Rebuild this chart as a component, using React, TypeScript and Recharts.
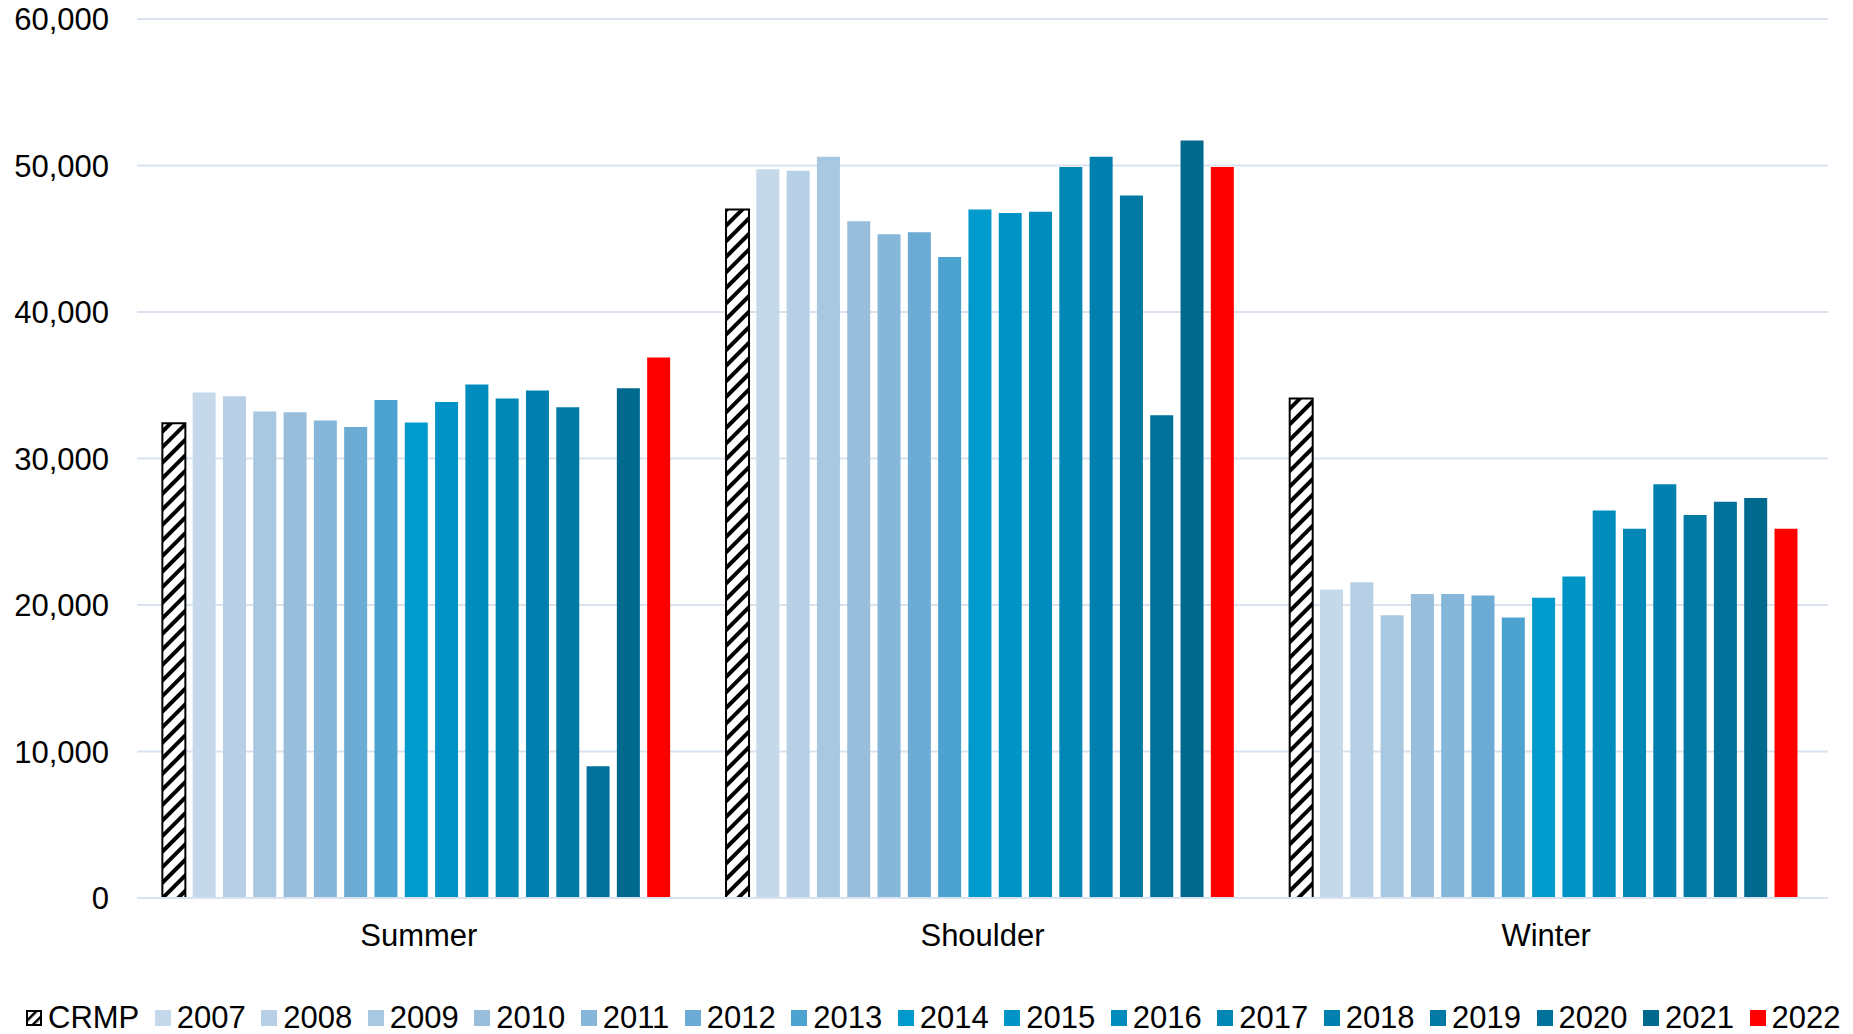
import React from 'react';
import { BarChart, Bar, XAxis, YAxis, CartesianGrid, Legend } from 'recharts';

const CATEGORIES = ['Summer', 'Shoulder', 'Winter'];
const SERIES = ['CRMP', '2007', '2008', '2009', '2010', '2011', '2012', '2013', '2014', '2015', '2016', '2017', '2018', '2019', '2020', '2021', '2022'];
const COLORS = [
    'url(#crmpHatch)', '#C5D9EA', '#B7D0E5', '#A8C8E1', '#98BEDC', '#86B6D9', '#6CABD4', '#4CA3CF',
    '#019ACD', '#0093C5', '#008CBD', '#0087B6', '#0080AE', '#0079A5', '#00719A', '#006A8E', '#FF0000',
];

// values per season, in SERIES order
const SUMMER = [32400, 34500, 34250, 33200, 33150, 32600, 32150, 34000, 32450, 33850, 35050, 34100, 34650, 33500, 9000, 34800, 36900];
const SHOULDER = [47000, 49750, 49650, 50600, 46200, 45300, 45450, 43750, 47000, 46750, 46850, 49900, 50600, 47950, 32950, 51700, 49900];
const WINTER = [34100, 21050, 21550, 19300, 20750, 20750, 20650, 19150, 20500, 21950, 26450, 25200, 28250, 26150, 27050, 27300, 25200];

const Y_TICKS = [0, 10000, 20000, 30000, 40000, 50000, 60000];

const FONT = '"Liberation Sans", Arial, sans-serif';
const GRID = '#D9E3F0';

const seasonValues = [SUMMER, SHOULDER, WINTER];
const data = CATEGORIES.map((name, i) => {
    const row: Record<string, string | number> = { name };
    SERIES.forEach((s, j) => { row[s] = seasonValues[i][j]; });
    return row;
});

const HatchIcon = () => (
    <svg width={16} height={16} style={{ display: 'block' }}>
        <defs>
            <pattern id="legendHatch" patternUnits="userSpaceOnUse" width={7} height={7} patternTransform="rotate(45)">
                <rect width={7} height={7} fill="#fff" />
                <rect width={2.5} height={7} fill="#000" />
            </pattern>
        </defs>
        <rect x={1} y={1} width={14} height={14} fill="url(#legendHatch)" stroke="#000" strokeWidth={2} />
    </svg>
);

const renderLegend = () => (
    <div style={{ display: 'flex', alignItems: 'center', gap: 15.5, paddingLeft: 26, height: 40, fontFamily: FONT, fontSize: 31, color: '#000', whiteSpace: 'nowrap' }}>
        {SERIES.map((s, i) => (
            <div key={s} style={{ display: 'flex', alignItems: 'center', gap: 6 }}>
                {i === 0 ? <HatchIcon /> : <div style={{ width: 16, height: 16, background: COLORS[i] }} />}
                <span>{s}</span>
            </div>
        ))}
    </div>
);

const App: React.FC = () => (
    <div style={{ position: 'absolute', left: 0, top: 0, background: '#fff' }}>
        <BarChart
            width={1853}
            height={1034}
            data={data}
            margin={{ top: 19, right: 25, left: 0, bottom: 36 }}
            barCategoryGap="4.5%"
            barGap={7.3}
        >
            <defs>
                <pattern id="crmpHatch" patternUnits="userSpaceOnUse" width={11} height={11} patternTransform="rotate(45)">
                    <rect width={11} height={11} fill="#fff" />
                    <rect width={4} height={11} fill="#000" />
                </pattern>
            </defs>
            <CartesianGrid vertical={false} stroke={GRID} strokeWidth={2} />
            <XAxis
                dataKey="name"
                height={60}
                axisLine={{ stroke: GRID, strokeWidth: 2 }}
                tickLine={false}
                tickSize={0}
                tickMargin={26}
                tick={{ fontFamily: FONT, fontSize: 31, fill: '#000' }}
            />
            <YAxis
                width={137}
                domain={[0, 60000]}
                ticks={Y_TICKS}
                axisLine={false}
                tickLine={false}
                tickSize={0}
                tickMargin={28}
                tickFormatter={(v: number) => v.toLocaleString('en-US')}
                tick={{ fontFamily: FONT, fontSize: 31, fill: '#000' }}
            />
            <Legend
                verticalAlign="bottom"
                content={renderLegend}
                wrapperStyle={{ position: 'absolute', left: 0, top: 998, width: 1853, height: 40 }}
            />
            {SERIES.map((s, i) => (
                <Bar
                    key={s}
                    dataKey={s}
                    fill={COLORS[i]}
                    stroke={i === 0 ? '#000' : undefined}
                    strokeWidth={i === 0 ? 2 : 0}
                    isAnimationActive={false}
                />
            ))}
        </BarChart>
    </div>
);

export default App;
